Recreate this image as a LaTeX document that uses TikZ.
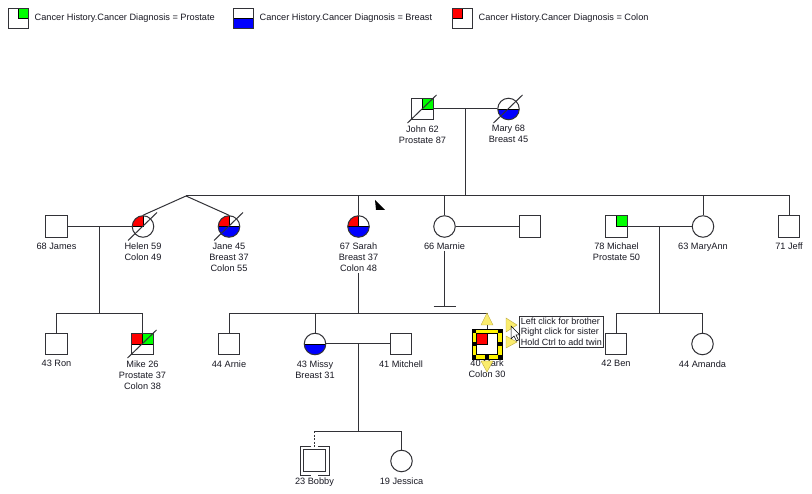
\documentclass[tikz,border=0pt]{standalone}
\usepackage{fontspec}
\setmainfont{Liberation Sans}
\usetikzlibrary{positioning,calc}

\definecolor{inkline}{RGB}{50,50,55}
\definecolor{inktext}{RGB}{25,25,35}
\definecolor{selyellow}{RGB}{255,245,0}
\definecolor{handyellow}{RGB}{250,236,110}
\definecolor{handedge}{RGB}{190,170,60}

% quarter / half fills for the diagnosis colours
\newcommand{\prost}{\fill[green,draw=black,line width=0.6pt] (path picture bounding box.center) rectangle (path picture bounding box.north east);}
\newcommand{\brst}{\fill[blue,draw=black,line width=0.6pt] (path picture bounding box.west) rectangle (path picture bounding box.south east);}
\newcommand{\colo}{\fill[red,draw=black,line width=0.6pt] (path picture bounding box.center) rectangle (path picture bounding box.north west);}

\begin{document}
\begin{tikzpicture}[x=1pt,y=-1pt,
    ln/.style={draw=inkline,line width=1pt},
    male/.style={draw=inkline,line width=1pt,fill=white,minimum size=21.5pt,inner sep=0pt},
    female/.style={male,circle},
    keybox/.style={draw=inkline,line width=1pt,fill=white,minimum size=20pt,inner sep=0pt},
    cancer/.style={path picture={#1}},
    dead/.style={append after command={([shift={(-15pt,-14pt)}]\tikzlastnode.center) edge[ln] ([shift={(14pt,14pt)}]\tikzlastnode.center)}},
    txt/.style={font=\fontsize{9.2}{11}\selectfont,text=inktext,inner sep=1pt},
    lbl/.style={txt,align=center},
    label distance=4pt,
    selbox/.style={draw=black,line width=0.6pt,fill=selyellow,minimum size=30pt,inner sep=0pt},
    hintbox/.style={txt,draw=inkline,line width=0.6pt,fill=white,align=left,inner sep=1.5pt,font=\fontsize{9}{10.5}\selectfont},
    handlearrow/.style={fill=handyellow,draw=handedge,line width=0.4pt}]

  \path[use as bounding box,fill=white] (0,0) rectangle (812,494);

  % legend
  \node[keybox,cancer={\prost}] (keyp) at (18,18.5) {};
  \node[txt,right=5pt of keyp] (keyptxt) {Cancer History.Cancer Diagnosis = Prostate};
  \node[keybox,cancer={\brst}] (keyb) at (243,18.5) {};
  \node[txt,right=5pt of keyb] (keybtxt) {Cancer History.Cancer Diagnosis = Breast};
  \node[keybox,cancer={\colo}] (keyc) at (462,18.5) {};
  \node[txt,right=5pt of keyc] (keyctxt) {Cancer History.Cancer Diagnosis = Colon};

  % grandparents
  \node[male,cancer={\prost},dead,label={[lbl]below:{John 62\\Prostate 87}}] (john) at (422.5,109) {};
  \node[female,cancer={\brst},dead,label={[lbl]below:{Mary 68\\Breast 45}}] (mary) at (508.5,109) {};

  % children and spouses
  \node[male,label={[lbl]below:{68 James}}] (james) at (56.5,226.5) {};
  \node[female,cancer={\colo},dead,label={[lbl]below:{Helen 59\\Colon 49}}] (helen) at (143,226.5) {};
  \node[female,cancer={\colo\brst},dead,label={[lbl]below:{Jane 45\\Breast 37\\Colon 55}}] (jane) at (229,226.5) {};
  \node[female,cancer={\colo\brst},label={[lbl,name=sarahlbl]below:{67 Sarah\\Breast 37\\Colon 48}}] (sarah) at (358.5,226.5) {};
  \node[female,label={[lbl,name=marnielbl]below:{66 Marnie}}] (marnie) at (444.5,226.5) {};
  \node[male] (mhusband) at (530,226.5) {};
  \node[male,cancer={\prost},label={[lbl]below:{78 Michael\\Prostate 50}}] (michael) at (616.5,226.5) {};
  \node[female,label={[lbl]below:{63 MaryAnn}}] (maryann) at (703,226.5) {};
  \node[male,label={[lbl]below:{71 Jeff}}] (jeff) at (789,226.5) {};

  % grandchildren
  \node[male,label={[lbl]below:{43 Ron}}] (ron) at (56.5,344) {};
  \node[male,cancer={\colo\prost},dead,label={[lbl]below:{Mike 26\\Prostate 37\\Colon 38}}] (mike) at (142.5,344) {};
  \node[male,label={[lbl]below:{44 Arnie}}] (arnie) at (229,344) {};
  \node[female,cancer={\brst},label={[lbl]below:{43 Missy\\Breast 31}}] (missy) at (315,344) {};
  \node[male,label={[lbl]below:{41 Mitchell}}] (mitchell) at (401,344) {};
  \node[selbox] (marksel) at (487,344) {};
  \node[male,line width=0.7pt,draw=black,cancer={\colo},label={[lbl]below:{40 Mark\\Colon 30}}] (mark) at (487,344) {};
  \node[male,label={[lbl]below:{42 Ben}}] (ben) at (616,344) {};
  \node[female,label={[lbl]below:{44 Amanda}}] (amanda) at (702.5,344) {};

  % great-grandchildren
  \node[male,minimum size=22pt,label={[lbl]below:{23 Bobby}}] (bobby) at (314.5,461) {};
  \node[female,label={[lbl]below:{19 Jessica}}] (jessica) at (401.5,461) {};

  % couples
  \draw[ln] (john) -- (mary);
  \draw[ln] (james) -- (helen);
  \draw[ln] (marnie) -- (mhusband);
  \draw[ln] (michael) -- (maryann);
  \draw[ln] (missy) -- (mitchell);
  \coordinate (jm) at ($(john)!0.5!(mary)$);
  \coordinate (jh) at ($(james)!0.5!(helen)$);
  \coordinate (mm) at ($(michael)!0.5!(maryann)$);
  \coordinate (mt) at ($(missy)!0.5!(mitchell)$);

  % sibships
  \coordinate (twin) at (186,196);
  \coordinate (row3) at (0,314);
  \coordinate (row4) at (0,431.5);
  \draw[ln] (jm) -- (jm |- twin);
  \draw[ln] (twin) -| (jeff);
  \draw[ln] (twin) -- (helen.north);
  \draw[ln] (twin) -- (jane.north);
  \draw[ln] (sarah |- twin) -- (sarah);
  \draw[ln] (marnie |- twin) -- (marnie);
  \draw[ln] (maryann |- twin) -- (maryann);

  \draw[ln] (jh) -- (jh |- row3);
  \draw[ln] (ron) -- (ron |- row3) -- (mike |- row3) -- (mike);
  \draw[ln] (sarahlbl) -- (sarahlbl |- row3);
  \draw[ln] (arnie) -- (arnie |- row3) -- (marksel |- row3) -- (marksel);
  \draw[ln] (missy |- row3) -- (missy);
  \draw[ln] (mm) -- (mm |- row3);
  \draw[ln] (ben) -- (ben |- row3) -- (amanda |- row3) -- (amanda);

  \draw[ln] (mt) -- (mt |- row4);
  \draw[ln] (bobby |- row4) -- (jessica |- row4) -- (jessica);
  \draw[ln,dashed,dash pattern=on 2pt off 1.5pt] (bobby |- row4) -- (bobby);
  \draw[ln] ([shift={(8pt,3pt)}]bobby.north west) -- ++(-11pt,0) |- ([shift={(8pt,-3pt)}]bobby.south west);
  \draw[ln] ([shift={(-8pt,3pt)}]bobby.north east) -- ++(11pt,0) |- ([shift={(-8pt,-3pt)}]bobby.south east);

  % no children
  \coordinate (nokids) at (444.5,307);
  \draw[ln] (marnielbl) -- (nokids);
  \draw[ln] (nokids) ++(-11pt,0) -- ++(22pt,0);

  % corner marker
  \fill[black] (375,200) -- (376,210) -- (385,210) -- cycle;

  % selection handles on Mark
  \foreach \dx/\dy in {-13/-13,13/-13,-13/0,13/0,-13/13,0/13,13/13}
    \fill[black] ($(mark)+(\dx,\dy)$) +(-2.2pt,-2.2pt) rectangle +(2.2pt,2.2pt);
  \draw[handlearrow] (481,325) -- (487,313) -- (493,325) -- cycle;
  \draw[handlearrow] (481,361) -- (487,372) -- (493,361) -- cycle;
  \draw[handlearrow] (506,318) -- (517,325) -- (506,332) -- cycle;
  \draw[handlearrow] (506,336) -- (517,342) -- (506,348) -- cycle;

  % hint
  \node[hintbox,anchor=north west] (hint) at (519,316) {Left click for brother\\Right click for sister\\Hold Ctrl to add twin};
  \draw[fill=white,draw=black,line width=0.5pt] (511,326) -- (511,339) -- (514,336) -- (516.5,341) -- (518.5,340) -- (516,335) -- (520,335) -- cycle;
\end{tikzpicture}
\end{document}
